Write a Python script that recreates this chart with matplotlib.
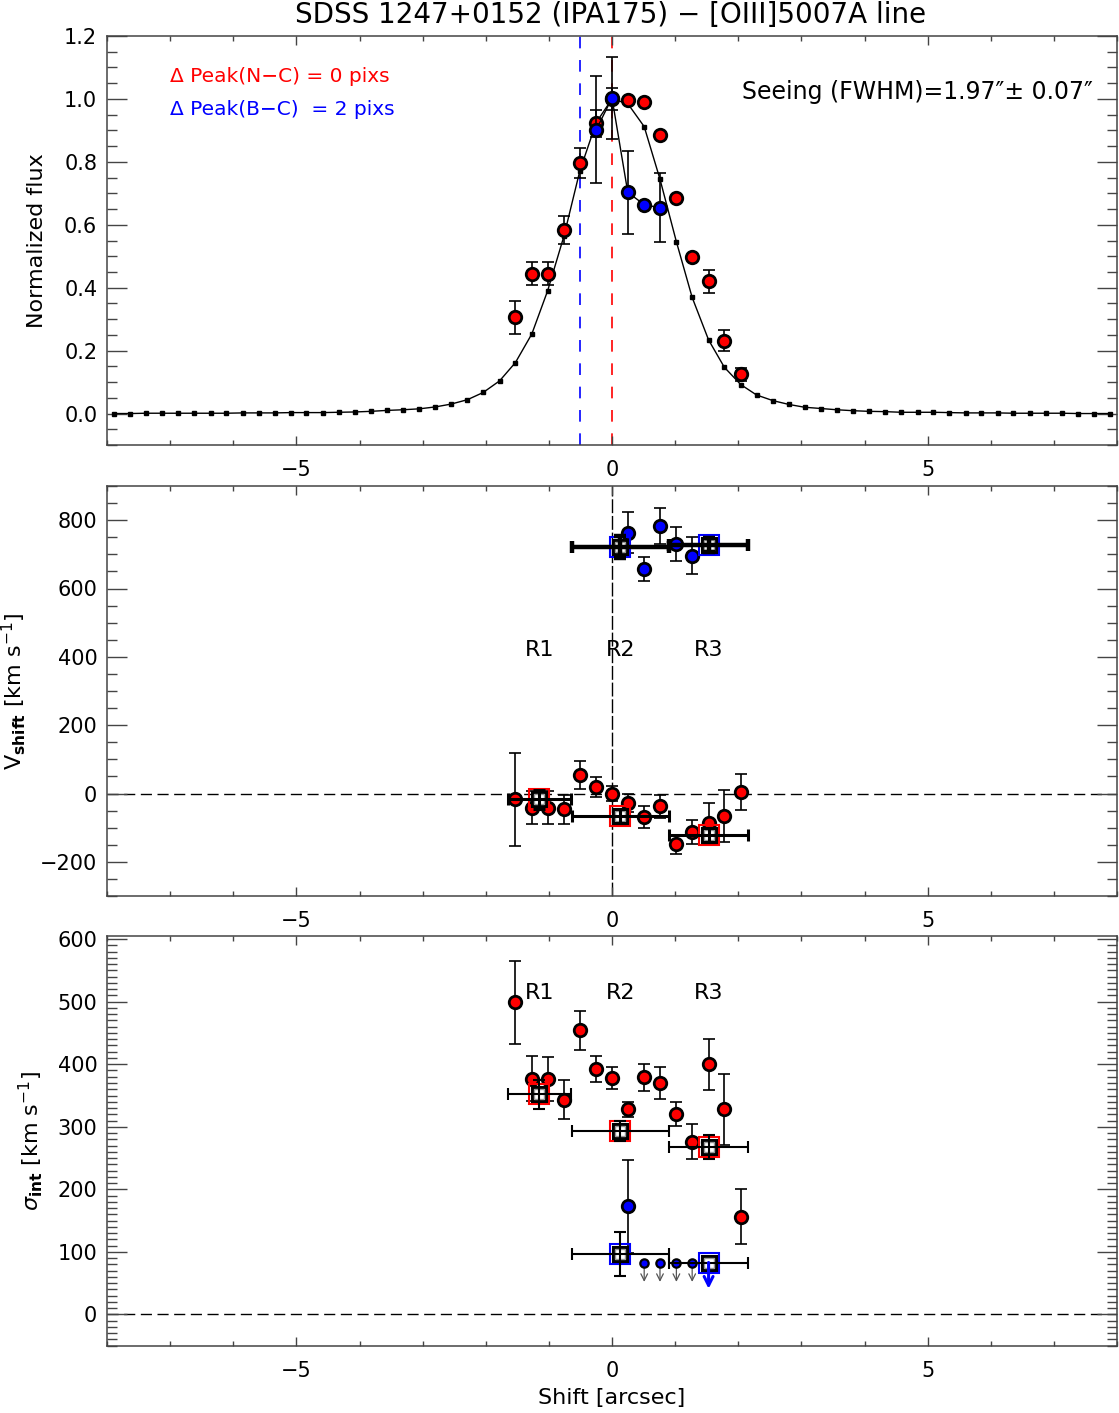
import matplotlib
matplotlib.use("Agg")
import matplotlib.pyplot as plt
from matplotlib.ticker import MultipleLocator, FormatStrFormatter
import numpy as np

# ---------------- data ----------------
# model (seeing) profile
model_x = [-7.89, -7.63, -7.38, -7.13, -6.87, -6.62, -6.36, -6.11, -5.85, -5.60,
           -5.34, -5.09, -4.84, -4.58, -4.33, -4.07, -3.82, -3.56, -3.31, -3.05,
           -2.80, -2.55, -2.29, -2.04, -1.78, -1.53, -1.27, -1.02, -0.76, -0.51,
           -0.25, 0.00, 0.25, 0.51, 0.76, 1.02, 1.27, 1.53, 1.78, 2.04,
           2.29, 2.55, 2.80, 3.05, 3.31, 3.56, 3.82, 4.07, 4.33, 4.58,
           4.84, 5.09, 5.34, 5.60, 5.85, 6.11, 6.36, 6.62, 6.87, 7.13,
           7.38, 7.63, 7.89]
model_y = [0.000, 0.000, 0.001, 0.001, 0.001, 0.001, 0.001, 0.001, 0.002, 0.002,
           0.002, 0.003, 0.003, 0.003, 0.004, 0.005, 0.007, 0.010, 0.012, 0.015,
           0.021, 0.030, 0.044, 0.067, 0.104, 0.162, 0.253, 0.390, 0.565, 0.771,
           0.925, 1.000, 0.985, 0.912, 0.745, 0.546, 0.369, 0.234, 0.147, 0.092,
           0.059, 0.041, 0.029, 0.020, 0.016, 0.012, 0.009, 0.007, 0.006, 0.004,
           0.004, 0.004, 0.003, 0.002, 0.002, 0.002, 0.001, 0.001, 0.001, 0.001,
           0.000, 0.000, 0.000]

# red (narrow) data
red_x = [-1.53, -1.27, -1.02, -0.76, -0.51, -0.25, 0.00, 0.25, 0.51, 0.76,
         1.02, 1.27, 1.53, 1.78, 2.04]
red_flux = [0.306, 0.445, 0.445, 0.583, 0.796, 0.923, 1.000, 0.997, 0.989, 0.885,
            0.684, 0.496, 0.420, 0.231, 0.125]
red_flux_err = [0.053, 0.037, 0.037, 0.044, 0.047, 0.043, 0.035, 0.0, 0.0, 0.0,
                0.0, 0.0, 0.037, 0.033, 0.020]
red_v = [-17, -41, -41, -46, 54, 20, 0, -28, -68, -38, -149, -112, -85, -66, 5]
red_v_err = [136, 49, 49, 43, 41, 29, 22, 27, 32, 34, 27, 35, 57, 77, 52]
red_sig = [499, 377, 377, 343, 454, 392, 378, 328, 379, 370, 321, 276, 400, 328, 156]
red_sig_err = [66, 36, 35, 31, 31, 21, 17, 12, 22, 26, 19, 28, 41, 57, 44]

# blue (broad) data
blue_x = [-0.25, 0.00, 0.25, 0.51, 0.76]
blue_flux = [0.902, 1.003, 0.703, 0.664, 0.654]
blue_flux_err = [0.17, 0.13, 0.133, 0.0, 0.109]
blue_vx = [0.25, 0.51, 0.76, 1.02, 1.27]
blue_v = [763, 657, 782, 730, 696]
blue_v_err = [60, 35, 53, 50, 55]
blue_sx = [0.25]
blue_sig = [173]
blue_sig_err = [74]
blue_ul_x = [0.51, 0.76, 1.02, 1.27]
blue_ul = [83, 83, 83, 83]
blue_ul_end = [52, 52, 52, 52]

# regions R1, R2, R3
reg_names = ["R1", "R2", "R3"]
reg_x = [-1.15, 0.13, 1.53]
reg_lo = [-1.65, -0.64, 0.90]
reg_hi = [-0.65, 0.90, 2.16]
reg_red_v = [-17, -66, -122]
reg_red_v_err = [28, 20, 20]
reg_blue_x = [0.13, 1.53]
reg_blue_lo = [-0.64, 0.90]
reg_blue_hi = [0.90, 2.16]
reg_blue_v = [722, 728]
reg_blue_v_err = [33, 20]
reg_red_sig = [352, 293, 268]
reg_red_sig_err = [23, 16, 19]
reg_blue_sig = [97]
reg_blue_sig_err = [35]
reg_blue_ul_x = [1.53]
reg_blue_ul = [83]
reg_blue_ul_end = [41]

peak_blue_x = -0.51
peak_red_x = 0.0

# ---------------- figure ----------------
W, H = 1119, 1413
fig = plt.figure(figsize=(W / 100, H / 100), dpi=100)
plt.rcParams['font.family'] = ['DejaVu Sans']

L = 107 / W
Wd = 1010 / W
ax1 = fig.add_axes([L, 1 - 445 / H, Wd, 409 / H])
ax2 = fig.add_axes([L, 1 - 896 / H, Wd, 410 / H])
ax3 = fig.add_axes([L, 1 - 1345.7 / H, Wd, 409.7 / H])

TICKFS = 15
LABFS = 16


def style(ax, ymaj, ymin):
    ax.set_xlim(-8, 8)
    ax.xaxis.set_major_locator(MultipleLocator(5))
    ax.xaxis.set_minor_locator(MultipleLocator(1))
    ax.yaxis.set_major_locator(MultipleLocator(ymaj))
    ax.yaxis.set_minor_locator(MultipleLocator(ymin))
    ax.tick_params(which='both', direction='in', top=True, right=True,
                   labelsize=TICKFS, color='#444444', width=1.0)
    ax.tick_params(axis='x', which='major', length=6.5, pad=11)
    ax.tick_params(axis='x', which='minor', length=3.6)
    ax.tick_params(axis='y', which='major', length=14.4, pad=7)
    ax.tick_params(axis='y', which='minor', length=7.2)
    for s in ax.spines.values():
        s.set_color('#444444')
        s.set_linewidth(1.1)


DASH = (0, (8, 4))

# ---------- top panel ----------
style(ax1, 0.2, 0.05)
ax1.set_ylim(-0.1, 1.2)
ax1.yaxis.set_major_formatter(FormatStrFormatter('%.1f'))
ax1.axvline(peak_blue_x, color='blue', ls=(0, (7, 7)), lw=1.2, zorder=1)
ax1.axvline(peak_red_x, color='red', ls=(0, (7, 7)), lw=1.2, zorder=1)
ax1.plot(model_x, model_y, '-', color='black', lw=1.0, marker='s', ms=2.8, zorder=2)
ax1.errorbar(red_x, red_flux, yerr=red_flux_err, fmt='none', ecolor='black',
             elinewidth=1.2, capsize=4, capthick=1.2, zorder=3)
ax1.plot(red_x, red_flux, 'o', mfc='red', mec='black', ms=9, mew=2, zorder=4)
ax1.errorbar(blue_x, blue_flux, yerr=blue_flux_err, fmt='none', ecolor='black',
             elinewidth=1.2, capsize=4, capthick=1.2, zorder=5)
ax1.plot(blue_x, blue_flux, '-', color='black', lw=1.0, zorder=5)
ax1.plot(blue_x, blue_flux, 'o', mfc='blue', mec='black', ms=9, mew=2, zorder=6)
ax1.set_ylabel('Normalized flux', fontsize=LABFS)
ax1.yaxis.set_label_coords(-0.059, 0.5)
ax1.text(0.0624, 0.900, '\u0394 Peak(N\u2212C) = 0 pixs', transform=ax1.transAxes,
         color='red', fontsize=14.5, ha='left', va='center')
ax1.text(0.0624, 0.821, '\u0394 Peak(B\u2212C)  = 2 pixs', transform=ax1.transAxes,
         color='blue', fontsize=14.5, ha='left', va='center')
ax1.text(0.976, 0.863, 'Seeing (FWHM)=1.97\u2033\u00b1 0.07\u2033', transform=ax1.transAxes,
         color='black', fontsize=17, ha='right', va='center')
fig.text(0.546, 1 - 15 / H, 'SDSS 1247+0152 (IPA175) \u2212 [OIII]5007A line',
         ha='center', va='center', fontsize=20)


def region_squares(ax, xs, ys, col, z=7):
    ax.plot(xs, ys, 's', mfc='none', mec=col, ms=14.5, mew=1.5, zorder=z)
    ax.plot(xs, ys, 's', mfc='white', mec='black', ms=10.5, mew=2.2, zorder=z)
    ax.plot(xs, ys, 's', mfc='none', mec='#999999', ms=7, mew=1.0, zorder=z)


# ---------- middle panel ----------
style(ax2, 200, 50)
ax2.set_ylim(-300, 900)
ax2.axhline(0, color='black', ls=DASH, lw=1.0, zorder=1)
ax2.axvline(0, color='black', ls=(0, (10, 2)), lw=1.0, zorder=1)
ax2.errorbar(red_x, red_v, yerr=red_v_err, fmt='none', ecolor='black',
             elinewidth=1.2, capsize=4, capthick=1.2, zorder=3)
ax2.plot(red_x, red_v, 'o', mfc='red', mec='black', ms=9, mew=2, zorder=4)
ax2.errorbar(blue_vx, blue_v, yerr=blue_v_err, fmt='none', ecolor='black',
             elinewidth=1.2, capsize=4, capthick=1.2, zorder=3)
ax2.plot(blue_vx, blue_v, 'o', mfc='blue', mec='black', ms=9, mew=2, zorder=4)
region_squares(ax2, reg_x, reg_red_v, 'red')
rx_err = [np.subtract(reg_x, reg_lo), np.subtract(reg_hi, reg_x)]
ax2.errorbar(reg_x, reg_red_v, xerr=rx_err, yerr=reg_red_v_err, fmt='none',
             ecolor='black', elinewidth=2.2, capsize=4, capthick=2.2, zorder=8)
region_squares(ax2, reg_blue_x, reg_blue_v, 'blue')
bx_err = [np.subtract(reg_blue_x, reg_blue_lo), np.subtract(reg_blue_hi, reg_blue_x)]
ax2.errorbar(reg_blue_x, reg_blue_v, xerr=bx_err, yerr=reg_blue_v_err, fmt='none',
             ecolor='black', elinewidth=3.2, capsize=4, capthick=3.2, zorder=8)
for n, x in zip(reg_names, reg_x):
    ax2.text(x, 420, n, ha='center', va='center', fontsize=TICKFS + 1)
ax2.set_ylabel(r'V$_{\mathbf{shift}}$ [km s$^{-1}$]', fontsize=LABFS)
ax2.yaxis.set_label_coords(-0.078, 0.5)

# ---------- bottom panel ----------
style(ax3, 100, 10)
ax3.set_ylim(-50, 605)
ax3.axhline(0, color='black', ls=DASH, lw=1.0, zorder=1)
ax3.errorbar(red_x, red_sig, yerr=red_sig_err, fmt='none', ecolor='black',
             elinewidth=1.2, capsize=4, capthick=1.2, zorder=3)
ax3.plot(red_x, red_sig, 'o', mfc='red', mec='black', ms=9, mew=2, zorder=4)
ax3.errorbar(blue_sx, blue_sig, yerr=blue_sig_err, fmt='none', ecolor='black',
             elinewidth=1.2, capsize=4, capthick=1.2, zorder=3)
ax3.plot(blue_sx, blue_sig, 'o', mfc='blue', mec='black', ms=9, mew=2, zorder=4)
for x, y0, y1 in zip(blue_ul_x, blue_ul, blue_ul_end):
    ax3.annotate('', xy=(x, y1), xytext=(x, y0),
                 arrowprops=dict(arrowstyle='->', color='#555555', lw=0.9,
                                 shrinkA=0, shrinkB=0, mutation_scale=12), zorder=3)
ax3.plot(blue_ul_x, blue_ul, 'o', mfc='blue', mec='black', ms=6, mew=1.6, zorder=4)
region_squares(ax3, reg_x, reg_red_sig, 'red')
ax3.errorbar(reg_x, reg_red_sig, xerr=rx_err, yerr=reg_red_sig_err, fmt='none',
             ecolor='black', elinewidth=1.5, capsize=4, capthick=1.5, zorder=8)
region_squares(ax3, reg_blue_x, reg_blue_sig + reg_blue_ul, 'blue')
ax3.errorbar(reg_blue_x[:1], reg_blue_sig, xerr=[[bx_err[0][0]], [bx_err[1][0]]],
             yerr=reg_blue_sig_err, fmt='none', ecolor='black', elinewidth=1.5,
             capsize=4, capthick=1.5, zorder=8)
ax3.errorbar(reg_blue_ul_x, reg_blue_ul, xerr=[[bx_err[0][1]], [bx_err[1][1]]],
             fmt='none', ecolor='black', elinewidth=1.5, capsize=4, capthick=1.5, zorder=8)
for x, y0, y1 in zip(reg_blue_ul_x, reg_blue_ul, reg_blue_ul_end):
    ax3.annotate('', xy=(x, y1), xytext=(x, y0),
                 arrowprops=dict(arrowstyle='->', color='blue', lw=2.2,
                                 shrinkA=0, shrinkB=0, mutation_scale=16), zorder=9)
for n, x in zip(reg_names, reg_x):
    ax3.text(x, 514, n, ha='center', va='center', fontsize=TICKFS + 1)
ax3.set_ylabel(r'$\sigma_{\mathbf{int}}$ [km s$^{-1}$]', fontsize=LABFS)
ax3.yaxis.set_label_coords(-0.061, 0.5)
ax3.set_xlabel('Shift [arcsec]', fontsize=LABFS, labelpad=5)

fig.savefig('out.png', dpi=100)
